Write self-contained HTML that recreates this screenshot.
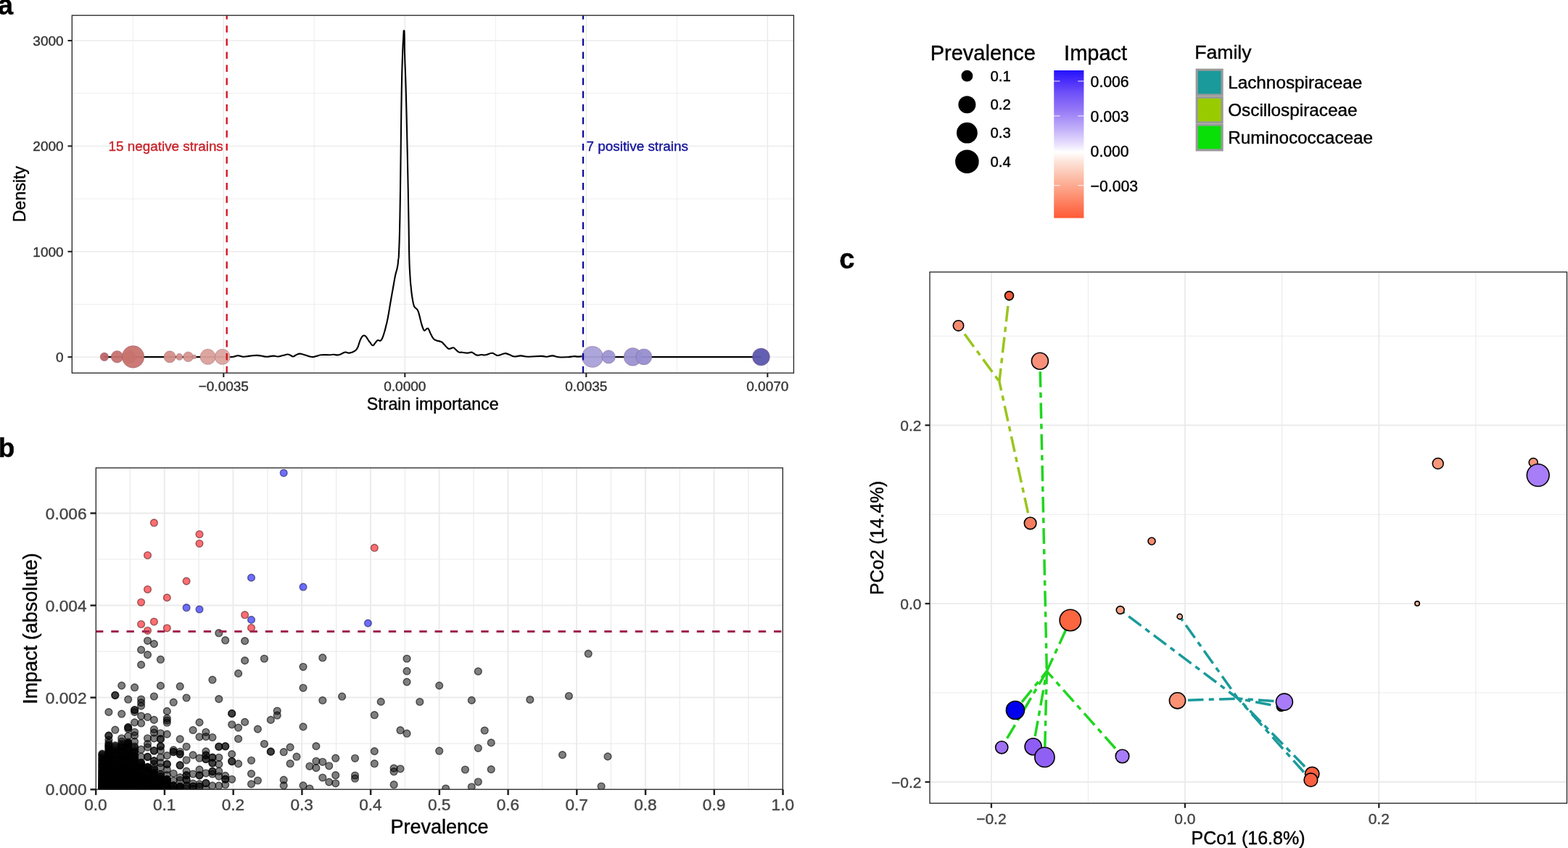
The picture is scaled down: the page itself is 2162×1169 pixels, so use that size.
<!DOCTYPE html>
<html lang="en"><head><meta charset="utf-8"><title>Strain importance figure</title>
<style>
html,body{margin:0;padding:0;background:#fff;}
body{width:2162px;height:1169px;overflow:hidden;}
svg{display:block;font-family:"Liberation Sans", Arial, Helvetica, sans-serif;}
text{stroke:currentColor;stroke-width:0.4px;paint-order:stroke;}
</style></head>
<body>
<svg width="2162" height="1169" viewBox="0 0 2162 1169">
<rect width="2162" height="1169" fill="#ffffff"/>
<g id="panel-a">
<rect x="99.3" y="21.2" width="995.10" height="493.00" fill="#fff"/>
<line x1="183.30" y1="21.20" x2="183.30" y2="514.20" stroke="#ebebeb" stroke-width="0.8" />
<line x1="433.30" y1="21.20" x2="433.30" y2="514.20" stroke="#ebebeb" stroke-width="0.8" />
<line x1="683.30" y1="21.20" x2="683.30" y2="514.20" stroke="#ebebeb" stroke-width="0.8" />
<line x1="933.30" y1="21.20" x2="933.30" y2="514.20" stroke="#ebebeb" stroke-width="0.8" />
<line x1="99.30" y1="128.70" x2="1094.40" y2="128.70" stroke="#ebebeb" stroke-width="0.8" />
<line x1="99.30" y1="274.10" x2="1094.40" y2="274.10" stroke="#ebebeb" stroke-width="0.8" />
<line x1="99.30" y1="419.50" x2="1094.40" y2="419.50" stroke="#ebebeb" stroke-width="0.8" />
<line x1="308.30" y1="21.20" x2="308.30" y2="514.20" stroke="#ebebeb" stroke-width="1.5" />
<line x1="558.30" y1="21.20" x2="558.30" y2="514.20" stroke="#ebebeb" stroke-width="1.5" />
<line x1="808.30" y1="21.20" x2="808.30" y2="514.20" stroke="#ebebeb" stroke-width="1.5" />
<line x1="1058.30" y1="21.20" x2="1058.30" y2="514.20" stroke="#ebebeb" stroke-width="1.5" />
<line x1="99.30" y1="56.00" x2="1094.40" y2="56.00" stroke="#ebebeb" stroke-width="1.5" />
<line x1="99.30" y1="201.40" x2="1094.40" y2="201.40" stroke="#ebebeb" stroke-width="1.5" />
<line x1="99.30" y1="346.80" x2="1094.40" y2="346.80" stroke="#ebebeb" stroke-width="1.5" />
<line x1="99.30" y1="492.20" x2="1094.40" y2="492.20" stroke="#ebebeb" stroke-width="1.5" />
<path d="M318.0 492.2C319.1 492.1 319.4 492.3 322.0 491.8C324.6 491.3 325.0 490.5 327.7 490.3C330.4 490.1 329.6 490.6 332.0 491.0C334.4 491.4 333.3 491.8 336.8 491.7C340.3 491.6 340.5 491.1 345.0 490.6C349.5 490.1 349.6 489.9 353.6 489.9C357.6 489.9 356.2 490.0 360.0 490.5C363.8 491.0 363.4 491.7 367.9 491.7C372.4 491.7 372.8 490.7 376.9 490.6C381.0 490.5 379.9 491.7 383.4 491.5C386.9 491.3 386.5 490.8 390.0 490.0C393.5 489.2 393.7 488.6 396.4 488.5C399.1 488.4 397.9 488.7 400.0 489.5C402.1 490.3 402.0 491.5 404.1 491.5C406.2 491.5 405.6 490.5 408.0 489.5C410.4 488.5 410.0 487.7 413.2 487.6C416.4 487.5 415.5 488.1 420.0 489.3C424.5 490.5 425.7 491.5 430.0 492.0C434.3 492.5 432.5 491.7 436.0 491.0C439.5 490.3 437.9 489.8 443.0 489.3C448.1 488.8 450.5 489.4 455.0 489.2C459.5 489.0 456.7 488.7 460.0 488.7C463.3 488.7 463.0 490.0 467.2 489.2C471.4 488.4 471.8 486.3 475.6 485.6C479.4 484.9 478.1 487.0 481.6 486.6C485.1 486.2 485.7 486.1 488.7 484.2C491.7 482.3 491.1 482.7 492.9 479.4C494.7 476.1 494.2 475.7 495.6 472.0C497.0 468.3 496.8 468.1 498.3 465.6C499.8 463.1 499.7 463.1 501.3 462.6C502.9 462.1 502.7 462.4 504.3 463.8C505.9 465.2 505.7 465.8 507.3 468.0C508.9 470.2 508.5 470.0 510.3 472.2C512.1 474.4 512.1 475.9 513.9 476.2C515.7 476.5 515.3 475.2 516.9 473.4C518.5 471.6 518.5 470.7 519.9 469.6C521.3 468.5 521.0 469.2 522.3 469.2C523.6 469.2 523.4 470.4 524.7 469.6C526.0 468.8 525.8 468.9 527.1 466.2C528.4 463.5 528.2 463.6 529.5 459.5C530.8 455.4 530.5 456.6 531.9 450.7C533.3 444.8 533.0 447.4 534.9 437.5C536.8 427.6 536.9 425.3 539.0 413.5C541.1 401.7 541.0 402.1 542.6 393.2C544.2 384.3 543.6 386.7 545.0 380.0C546.4 373.3 546.9 373.9 548.0 368.0C549.1 362.1 548.6 363.8 549.2 358.0C549.8 352.2 549.5 361.7 550.1 346.2C550.7 330.7 550.7 337.7 551.4 300.0C552.1 262.3 552.1 250.9 552.7 205.0C553.3 159.1 553.1 162.1 553.7 128.0C554.3 93.9 554.3 97.8 555.0 77.0C555.7 56.2 555.8 59.3 556.3 50.0C556.8 40.7 556.6 42.3 557.0 42.3C557.4 42.3 557.4 40.7 557.7 50.0C558.0 59.3 557.5 56.2 558.1 77.0C558.7 97.8 558.9 93.9 559.8 128.0C560.7 162.1 560.6 159.1 561.6 205.0C562.6 250.9 562.7 261.0 563.4 300.0C564.1 339.0 563.7 330.0 564.2 351.3C564.7 372.6 564.7 367.5 565.4 380.0C566.1 392.5 566.1 390.0 566.9 398.0C567.7 406.0 567.5 404.3 568.4 410.0C569.3 415.7 569.2 415.8 570.2 419.5C571.2 423.2 570.6 421.6 572.0 423.7C573.4 425.8 574.0 424.6 575.6 427.3C577.2 430.0 576.6 428.9 578.0 433.9C579.4 438.9 579.6 440.8 581.0 445.9C582.4 451.0 582.3 450.4 583.4 453.0C584.5 455.6 584.0 455.4 585.1 455.7C586.2 456.0 586.4 454.8 587.5 454.0C588.6 453.2 588.3 452.8 589.3 452.8C590.3 452.8 589.8 451.9 591.1 454.0C592.4 456.1 592.3 457.4 594.1 460.8C595.9 464.2 595.8 464.6 597.7 466.8C599.6 469.0 598.4 468.0 601.3 469.2C604.2 470.4 605.6 469.9 608.5 471.3C611.4 472.7 609.9 472.4 612.1 474.6C614.3 476.8 614.8 477.9 616.9 479.6C619.0 481.3 617.8 480.9 619.9 480.8C622.0 480.7 622.6 479.1 624.7 479.2C626.8 479.3 625.6 479.5 627.7 481.2C629.8 482.9 630.0 484.2 632.5 485.4C635.0 486.6 634.0 485.4 637.2 485.7C640.4 486.0 641.0 486.6 644.4 486.6C647.8 486.6 647.6 485.5 649.8 485.6C652.0 485.7 650.7 485.8 652.8 486.9C654.9 488.0 654.7 489.0 657.6 489.6C660.5 490.2 660.4 489.1 663.6 489.0C666.8 488.9 665.8 489.9 669.6 489.3C673.4 488.7 674.5 487.0 678.0 486.8C681.5 486.6 680.3 487.9 682.8 488.7C685.3 489.5 684.0 490.3 687.5 489.9C691.0 489.5 692.0 487.5 695.9 487.2C699.8 486.9 698.5 487.7 702.0 488.8C705.5 489.9 704.9 491.1 709.2 491.5C713.5 491.9 713.1 490.3 718.2 490.4C723.3 490.5 720.9 491.6 728.4 491.7C735.9 491.8 739.6 490.9 746.4 490.9C753.2 490.9 749.9 491.8 754.0 491.7C758.1 491.6 757.5 490.3 761.8 490.4C766.1 490.5 764.3 491.7 770.0 492.2C775.7 492.7 777.5 492.5 783.0 492.2C788.5 491.9 787.1 491.4 790.8 491.2C794.5 491.0 793.6 491.6 797.0 491.6C800.4 491.6 800.7 491.1 803.6 491.2C806.5 491.3 806.8 491.9 808.0 492.1" fill="none" stroke="#000" stroke-width="2.1" stroke-linejoin="round" stroke-linecap="butt"/>
<line x1="143.80" y1="492.20" x2="318.00" y2="492.20" stroke="#000" stroke-width="2.3" />
<line x1="806.00" y1="492.20" x2="1049.50" y2="492.20" stroke="#000" stroke-width="2.3" />
<circle cx="143.9" cy="491.9" r="5.8" fill="#bd6467" fill-opacity="0.95" stroke="#7a4a6a" stroke-opacity="0.35" stroke-width="1"/>
<circle cx="161.5" cy="491.9" r="8.3" fill="#c6726f" fill-opacity="0.95" stroke="#7a4a6a" stroke-opacity="0.35" stroke-width="1"/>
<circle cx="178.1" cy="491.9" r="9.0" fill="#c26a68" fill-opacity="0.95" stroke="#7a4a6a" stroke-opacity="0.35" stroke-width="1"/>
<circle cx="183.5" cy="491.9" r="15.3" fill="#c8736e" fill-opacity="0.95" stroke="#7a4a6a" stroke-opacity="0.35" stroke-width="1"/>
<circle cx="234.1" cy="491.9" r="8.1" fill="#d38e88" fill-opacity="0.95" stroke="#7a4a6a" stroke-opacity="0.35" stroke-width="1"/>
<circle cx="247.3" cy="491.9" r="4.6" fill="#d5928c" fill-opacity="0.95" stroke="#7a4a6a" stroke-opacity="0.35" stroke-width="1"/>
<circle cx="259.5" cy="491.9" r="6.9" fill="#d7968e" fill-opacity="0.95" stroke="#7a4a6a" stroke-opacity="0.35" stroke-width="1"/>
<circle cx="267.8" cy="491.9" r="2.8" fill="#d89a92" fill-opacity="0.95" stroke="#7a4a6a" stroke-opacity="0.35" stroke-width="1"/>
<circle cx="286.6" cy="491.9" r="10.6" fill="#dba09a" fill-opacity="0.95" stroke="#7a4a6a" stroke-opacity="0.35" stroke-width="1"/>
<circle cx="306.7" cy="491.9" r="10.6" fill="#dca49d" fill-opacity="0.95" stroke="#7a4a6a" stroke-opacity="0.35" stroke-width="1"/>
<circle cx="817.0" cy="491.9" r="14.6" fill="#a9a1d9" fill-opacity="0.95" stroke="#7a4a6a" stroke-opacity="0.35" stroke-width="1"/>
<circle cx="839.2" cy="491.9" r="9.2" fill="#9d95d2" fill-opacity="0.95" stroke="#7a4a6a" stroke-opacity="0.35" stroke-width="1"/>
<circle cx="872.5" cy="491.9" r="12.4" fill="#9b92d1" fill-opacity="0.95" stroke="#7a4a6a" stroke-opacity="0.35" stroke-width="1"/>
<circle cx="887.8" cy="491.9" r="11.0" fill="#978ed0" fill-opacity="0.95" stroke="#7a4a6a" stroke-opacity="0.35" stroke-width="1"/>
<circle cx="1049.4" cy="491.9" r="12.0" fill="#5b56ad" fill-opacity="0.95" stroke="#7a4a6a" stroke-opacity="0.35" stroke-width="1"/>
<line x1="312.70" y1="21.20" x2="312.70" y2="514.20" stroke="#d3101f" stroke-width="2.3" stroke-dasharray="9.6 8.47" stroke-dashoffset="4.0"/>
<line x1="804.00" y1="21.20" x2="804.00" y2="514.20" stroke="#0d0d9e" stroke-width="2.3" stroke-dasharray="9.6 8.47" stroke-dashoffset="4.0"/>
<text x="307.80" y="207.90" font-size="18.85" fill="#c8242b" color="#c8242b" text-anchor="end" font-weight="normal" >15 negative strains</text>
<text x="808.60" y="207.90" font-size="18.85" fill="#15159a" color="#15159a" text-anchor="start" font-weight="normal" >7 positive strains</text>
<rect x="99.3" y="21.2" width="995.10" height="493.00" fill="none" stroke="#222222" stroke-width="1.3"/>
<line x1="93.50" y1="56.00" x2="99.30" y2="56.00" stroke="#222222" stroke-width="2.1" />
<text x="87.60" y="62.70" font-size="19.0" fill="#333333" color="#333333" text-anchor="end" font-weight="normal" >3000</text>
<line x1="93.50" y1="201.40" x2="99.30" y2="201.40" stroke="#222222" stroke-width="2.1" />
<text x="87.60" y="208.10" font-size="19.0" fill="#333333" color="#333333" text-anchor="end" font-weight="normal" >2000</text>
<line x1="93.50" y1="346.80" x2="99.30" y2="346.80" stroke="#222222" stroke-width="2.1" />
<text x="87.60" y="353.50" font-size="19.0" fill="#333333" color="#333333" text-anchor="end" font-weight="normal" >1000</text>
<line x1="93.50" y1="492.20" x2="99.30" y2="492.20" stroke="#222222" stroke-width="2.1" />
<text x="87.60" y="498.90" font-size="19.0" fill="#333333" color="#333333" text-anchor="end" font-weight="normal" >0</text>
<line x1="308.30" y1="514.20" x2="308.30" y2="520.00" stroke="#222222" stroke-width="2.1" />
<text x="308.30" y="539.20" font-size="19.0" fill="#333333" color="#333333" text-anchor="middle" font-weight="normal" >−0.0035</text>
<line x1="558.30" y1="514.20" x2="558.30" y2="520.00" stroke="#222222" stroke-width="2.1" />
<text x="558.30" y="539.20" font-size="19.0" fill="#333333" color="#333333" text-anchor="middle" font-weight="normal" >0.0000</text>
<line x1="808.30" y1="514.20" x2="808.30" y2="520.00" stroke="#222222" stroke-width="2.1" />
<text x="808.30" y="539.20" font-size="19.0" fill="#333333" color="#333333" text-anchor="middle" font-weight="normal" >0.0035</text>
<line x1="1058.30" y1="514.20" x2="1058.30" y2="520.00" stroke="#222222" stroke-width="2.1" />
<text x="1058.30" y="539.20" font-size="19.0" fill="#333333" color="#333333" text-anchor="middle" font-weight="normal" >0.0070</text>
<text x="596.70" y="564.50" font-size="23.2" fill="#000" color="#000" text-anchor="middle" font-weight="normal" >Strain importance</text>
<text x="34.80" y="267.50" font-size="23.2" fill="#000" color="#000" text-anchor="middle" font-weight="normal" transform="rotate(-90 34.80 267.50)" >Density</text>
<text x="-2.90" y="20.30" font-size="38" fill="#000" color="#000" text-anchor="start" font-weight="bold" >a</text>
</g>
<g id="panel-b">
<rect x="132.3" y="645.0" width="947.00" height="443.20" fill="#fff"/>
<line x1="179.37" y1="645.00" x2="179.37" y2="1088.20" stroke="#ebebeb" stroke-width="1.2" />
<line x1="274.09" y1="645.00" x2="274.09" y2="1088.20" stroke="#ebebeb" stroke-width="1.2" />
<line x1="368.82" y1="645.00" x2="368.82" y2="1088.20" stroke="#ebebeb" stroke-width="1.2" />
<line x1="463.55" y1="645.00" x2="463.55" y2="1088.20" stroke="#ebebeb" stroke-width="1.2" />
<line x1="558.28" y1="645.00" x2="558.28" y2="1088.20" stroke="#ebebeb" stroke-width="1.2" />
<line x1="653.01" y1="645.00" x2="653.01" y2="1088.20" stroke="#ebebeb" stroke-width="1.2" />
<line x1="747.75" y1="645.00" x2="747.75" y2="1088.20" stroke="#ebebeb" stroke-width="1.2" />
<line x1="842.48" y1="645.00" x2="842.48" y2="1088.20" stroke="#ebebeb" stroke-width="1.2" />
<line x1="937.20" y1="645.00" x2="937.20" y2="1088.20" stroke="#ebebeb" stroke-width="1.2" />
<line x1="1031.93" y1="645.00" x2="1031.93" y2="1088.20" stroke="#ebebeb" stroke-width="1.2" />
<line x1="132.30" y1="771.00" x2="1079.30" y2="771.00" stroke="#ebebeb" stroke-width="1.2" />
<line x1="132.30" y1="898.10" x2="1079.30" y2="898.10" stroke="#ebebeb" stroke-width="1.2" />
<line x1="132.30" y1="1025.10" x2="1079.30" y2="1025.10" stroke="#ebebeb" stroke-width="1.2" />
<line x1="226.73" y1="645.00" x2="226.73" y2="1088.20" stroke="#ebebeb" stroke-width="2.0" />
<line x1="321.46" y1="645.00" x2="321.46" y2="1088.20" stroke="#ebebeb" stroke-width="2.0" />
<line x1="416.19" y1="645.00" x2="416.19" y2="1088.20" stroke="#ebebeb" stroke-width="2.0" />
<line x1="510.92" y1="645.00" x2="510.92" y2="1088.20" stroke="#ebebeb" stroke-width="2.0" />
<line x1="605.65" y1="645.00" x2="605.65" y2="1088.20" stroke="#ebebeb" stroke-width="2.0" />
<line x1="700.38" y1="645.00" x2="700.38" y2="1088.20" stroke="#ebebeb" stroke-width="2.0" />
<line x1="795.11" y1="645.00" x2="795.11" y2="1088.20" stroke="#ebebeb" stroke-width="2.0" />
<line x1="889.84" y1="645.00" x2="889.84" y2="1088.20" stroke="#ebebeb" stroke-width="2.0" />
<line x1="984.57" y1="645.00" x2="984.57" y2="1088.20" stroke="#ebebeb" stroke-width="2.0" />
<line x1="132.30" y1="707.50" x2="1079.30" y2="707.50" stroke="#ebebeb" stroke-width="2.0" />
<line x1="132.30" y1="834.60" x2="1079.30" y2="834.60" stroke="#ebebeb" stroke-width="2.0" />
<line x1="132.30" y1="961.60" x2="1079.30" y2="961.60" stroke="#ebebeb" stroke-width="2.0" />
<clipPath id="clipb"><rect x="132.3" y="645.0" width="947.00" height="443.20"/></clipPath>
<g clip-path="url(#clipb)">
<g fill="#000" fill-opacity="0.5" stroke="#000" stroke-opacity="0.6" stroke-width="1.4">
<circle cx="301.8" cy="872.7" r="4.9"/>
<circle cx="310.7" cy="882.7" r="4.9"/>
<circle cx="337.6" cy="883.6" r="4.9"/>
<circle cx="203.5" cy="883.3" r="4.9"/>
<circle cx="212.4" cy="887.6" r="4.9"/>
<circle cx="194.6" cy="895.9" r="4.9"/>
<circle cx="203.5" cy="902.6" r="4.9"/>
<circle cx="221.4" cy="909.2" r="4.9"/>
<circle cx="194.6" cy="916.4" r="4.9"/>
<circle cx="337.6" cy="910.6" r="4.9"/>
<circle cx="364.4" cy="908.0" r="4.9"/>
<circle cx="328.6" cy="928.4" r="4.9"/>
<circle cx="418.0" cy="919.3" r="4.9"/>
<circle cx="418.0" cy="948.3" r="4.9"/>
<circle cx="158.8" cy="958.3" r="4.9"/>
<circle cx="158.8" cy="958.6" r="4.9"/>
<circle cx="194.6" cy="964.0" r="4.9"/>
<circle cx="194.6" cy="968.6" r="4.9"/>
<circle cx="444.8" cy="906.7" r="4.9"/>
<circle cx="561.0" cy="908.0" r="4.9"/>
<circle cx="561.0" cy="925.2" r="4.9"/>
<circle cx="561.0" cy="940.1" r="4.9"/>
<circle cx="605.7" cy="945.1" r="4.9"/>
<circle cx="659.3" cy="925.5" r="4.9"/>
<circle cx="444.8" cy="965.5" r="4.9"/>
<circle cx="471.6" cy="960.2" r="4.9"/>
<circle cx="525.2" cy="967.4" r="4.9"/>
<circle cx="578.8" cy="967.5" r="4.9"/>
<circle cx="650.3" cy="965.4" r="4.9"/>
<circle cx="730.8" cy="964.5" r="4.9"/>
<circle cx="811.2" cy="901.2" r="4.9"/>
<circle cx="784.4" cy="959.5" r="4.9"/>
<circle cx="516.3" cy="985.7" r="4.9"/>
<circle cx="552.0" cy="1006.7" r="4.9"/>
<circle cx="561.0" cy="1011.2" r="4.9"/>
<circle cx="668.2" cy="1007.0" r="4.9"/>
<circle cx="677.2" cy="1023.9" r="4.9"/>
<circle cx="659.3" cy="1031.3" r="4.9"/>
<circle cx="435.9" cy="1028.6" r="4.9"/>
<circle cx="516.3" cy="1035.6" r="4.9"/>
<circle cx="605.7" cy="1035.2" r="4.9"/>
<circle cx="462.7" cy="1045.2" r="4.9"/>
<circle cx="489.5" cy="1045.3" r="4.9"/>
<circle cx="435.9" cy="1049.3" r="4.9"/>
<circle cx="444.8" cy="1050.3" r="4.9"/>
<circle cx="453.7" cy="1055.8" r="4.9"/>
<circle cx="435.9" cy="1058.6" r="4.9"/>
<circle cx="516.3" cy="1052.7" r="4.9"/>
<circle cx="543.1" cy="1059.0" r="4.9"/>
<circle cx="543.1" cy="1063.7" r="4.9"/>
<circle cx="552.0" cy="1059.8" r="4.9"/>
<circle cx="641.4" cy="1061.0" r="4.9"/>
<circle cx="677.2" cy="1060.6" r="4.9"/>
<circle cx="462.7" cy="1068.7" r="4.9"/>
<circle cx="444.8" cy="1072.0" r="4.9"/>
<circle cx="489.5" cy="1069.0" r="4.9"/>
<circle cx="489.5" cy="1073.2" r="4.9"/>
<circle cx="453.7" cy="1078.1" r="4.9"/>
<circle cx="462.7" cy="1079.8" r="4.9"/>
<circle cx="543.1" cy="1081.7" r="4.9"/>
<circle cx="659.3" cy="1077.8" r="4.9"/>
<circle cx="650.3" cy="1084.8" r="4.9"/>
<circle cx="614.6" cy="1087.0" r="4.9"/>
<circle cx="426.9" cy="1087.0" r="4.9"/>
<circle cx="426.9" cy="1056.3" r="4.9"/>
<circle cx="775.5" cy="1040.6" r="4.9"/>
<circle cx="838.0" cy="1042.9" r="4.9"/>
<circle cx="829.1" cy="1084.0" r="4.9"/>
<circle cx="149.9" cy="981.6" r="4.9"/>
<circle cx="149.9" cy="1013.9" r="4.9"/>
<circle cx="149.9" cy="1014.4" r="4.9"/>
<circle cx="149.9" cy="1020.1" r="4.9"/>
<circle cx="158.8" cy="1006.2" r="4.9"/>
<circle cx="167.7" cy="945.1" r="4.9"/>
<circle cx="167.7" cy="984.2" r="4.9"/>
<circle cx="167.7" cy="1017.8" r="4.9"/>
<circle cx="167.7" cy="1022.4" r="4.9"/>
<circle cx="176.7" cy="964.2" r="4.9"/>
<circle cx="176.7" cy="1002.4" r="4.9"/>
<circle cx="176.7" cy="1003.0" r="4.9"/>
<circle cx="176.7" cy="1004.7" r="4.9"/>
<circle cx="176.7" cy="1014.7" r="4.9"/>
<circle cx="176.7" cy="1024.7" r="4.9"/>
<circle cx="176.7" cy="1025.2" r="4.9"/>
<circle cx="185.6" cy="947.7" r="4.9"/>
<circle cx="185.6" cy="978.5" r="4.9"/>
<circle cx="185.6" cy="979.0" r="4.9"/>
<circle cx="185.6" cy="981.6" r="4.9"/>
<circle cx="185.6" cy="995.9" r="4.9"/>
<circle cx="185.6" cy="1009.3" r="4.9"/>
<circle cx="185.6" cy="1013.9" r="4.9"/>
<circle cx="185.6" cy="1022.4" r="4.9"/>
<circle cx="194.6" cy="973.1" r="4.9"/>
<circle cx="194.6" cy="987.0" r="4.9"/>
<circle cx="194.6" cy="997.0" r="4.9"/>
<circle cx="194.6" cy="1033.2" r="4.9"/>
<circle cx="194.6" cy="1043.2" r="4.9"/>
<circle cx="194.6" cy="1051.7" r="4.9"/>
<circle cx="194.6" cy="1056.3" r="4.9"/>
<circle cx="203.5" cy="988.5" r="4.9"/>
<circle cx="203.5" cy="1017.8" r="4.9"/>
<circle cx="203.5" cy="1025.5" r="4.9"/>
<circle cx="203.5" cy="1030.1" r="4.9"/>
<circle cx="203.5" cy="1043.2" r="4.9"/>
<circle cx="203.5" cy="1043.6" r="4.9"/>
<circle cx="203.5" cy="1057.8" r="4.9"/>
<circle cx="203.5" cy="1058.3" r="4.9"/>
<circle cx="212.4" cy="960.0" r="4.9"/>
<circle cx="212.4" cy="992.4" r="4.9"/>
<circle cx="212.4" cy="1005.5" r="4.9"/>
<circle cx="212.4" cy="1010.1" r="4.9"/>
<circle cx="212.4" cy="1017.8" r="4.9"/>
<circle cx="212.4" cy="1034.7" r="4.9"/>
<circle cx="212.4" cy="1035.2" r="4.9"/>
<circle cx="212.4" cy="1048.6" r="4.9"/>
<circle cx="212.4" cy="1049.0" r="4.9"/>
<circle cx="212.4" cy="1053.2" r="4.9"/>
<circle cx="221.4" cy="945.4" r="4.9"/>
<circle cx="221.4" cy="1010.8" r="4.9"/>
<circle cx="221.4" cy="1018.5" r="4.9"/>
<circle cx="221.4" cy="1019.0" r="4.9"/>
<circle cx="221.4" cy="1028.6" r="4.9"/>
<circle cx="221.4" cy="1029.0" r="4.9"/>
<circle cx="221.4" cy="1034.7" r="4.9"/>
<circle cx="221.4" cy="1044.0" r="4.9"/>
<circle cx="221.4" cy="1051.7" r="4.9"/>
<circle cx="221.4" cy="1057.8" r="4.9"/>
<circle cx="221.4" cy="1067.0" r="4.9"/>
<circle cx="230.3" cy="980.4" r="4.9"/>
<circle cx="230.3" cy="990.1" r="4.9"/>
<circle cx="230.3" cy="993.1" r="4.9"/>
<circle cx="230.3" cy="996.2" r="4.9"/>
<circle cx="230.3" cy="1012.1" r="4.9"/>
<circle cx="230.3" cy="1041.6" r="4.9"/>
<circle cx="230.3" cy="1053.2" r="4.9"/>
<circle cx="230.3" cy="1053.7" r="4.9"/>
<circle cx="230.3" cy="1060.9" r="4.9"/>
<circle cx="230.3" cy="1068.6" r="4.9"/>
<circle cx="230.3" cy="1074.7" r="4.9"/>
<circle cx="230.3" cy="1075.2" r="4.9"/>
<circle cx="239.2" cy="968.2" r="4.9"/>
<circle cx="239.2" cy="1033.9" r="4.9"/>
<circle cx="239.2" cy="1036.3" r="4.9"/>
<circle cx="239.2" cy="1036.7" r="4.9"/>
<circle cx="239.2" cy="1066.3" r="4.9"/>
<circle cx="239.2" cy="1076.3" r="4.9"/>
<circle cx="239.2" cy="1084.0" r="4.9"/>
<circle cx="248.2" cy="946.2" r="4.9"/>
<circle cx="248.2" cy="1018.9" r="4.9"/>
<circle cx="248.2" cy="1036.3" r="4.9"/>
<circle cx="248.2" cy="1039.3" r="4.9"/>
<circle cx="248.2" cy="1039.8" r="4.9"/>
<circle cx="248.2" cy="1054.7" r="4.9"/>
<circle cx="248.2" cy="1055.2" r="4.9"/>
<circle cx="248.2" cy="1071.7" r="4.9"/>
<circle cx="248.2" cy="1075.5" r="4.9"/>
<circle cx="248.2" cy="1084.0" r="4.9"/>
<circle cx="248.2" cy="1084.5" r="4.9"/>
<circle cx="257.1" cy="962.0" r="4.9"/>
<circle cx="257.1" cy="1029.3" r="4.9"/>
<circle cx="257.1" cy="1047.8" r="4.9"/>
<circle cx="257.1" cy="1063.2" r="4.9"/>
<circle cx="257.1" cy="1068.6" r="4.9"/>
<circle cx="257.1" cy="1069.1" r="4.9"/>
<circle cx="257.1" cy="1074.7" r="4.9"/>
<circle cx="257.1" cy="1075.2" r="4.9"/>
<circle cx="257.1" cy="1084.0" r="4.9"/>
<circle cx="266.1" cy="1006.5" r="4.9"/>
<circle cx="266.1" cy="1040.9" r="4.9"/>
<circle cx="266.1" cy="1067.0" r="4.9"/>
<circle cx="266.1" cy="1080.1" r="4.9"/>
<circle cx="266.1" cy="1084.0" r="4.9"/>
<circle cx="275.0" cy="995.9" r="4.9"/>
<circle cx="275.0" cy="1015.8" r="4.9"/>
<circle cx="275.0" cy="1045.2" r="4.9"/>
<circle cx="275.0" cy="1060.9" r="4.9"/>
<circle cx="275.0" cy="1068.6" r="4.9"/>
<circle cx="275.0" cy="1069.1" r="4.9"/>
<circle cx="275.0" cy="1080.9" r="4.9"/>
<circle cx="275.0" cy="1084.0" r="4.9"/>
<circle cx="283.9" cy="1009.3" r="4.9"/>
<circle cx="283.9" cy="1015.5" r="4.9"/>
<circle cx="283.9" cy="1035.9" r="4.9"/>
<circle cx="283.9" cy="1040.9" r="4.9"/>
<circle cx="283.9" cy="1041.3" r="4.9"/>
<circle cx="283.9" cy="1046.3" r="4.9"/>
<circle cx="283.9" cy="1046.7" r="4.9"/>
<circle cx="283.9" cy="1065.8" r="4.9"/>
<circle cx="283.9" cy="1079.4" r="4.9"/>
<circle cx="283.9" cy="1079.8" r="4.9"/>
<circle cx="292.9" cy="937.2" r="4.9"/>
<circle cx="292.9" cy="1016.5" r="4.9"/>
<circle cx="292.9" cy="1044.0" r="4.9"/>
<circle cx="292.9" cy="1044.4" r="4.9"/>
<circle cx="292.9" cy="1051.7" r="4.9"/>
<circle cx="292.9" cy="1052.1" r="4.9"/>
<circle cx="292.9" cy="1063.2" r="4.9"/>
<circle cx="292.9" cy="1063.7" r="4.9"/>
<circle cx="292.9" cy="1067.0" r="4.9"/>
<circle cx="292.9" cy="1083.2" r="4.9"/>
<circle cx="301.8" cy="963.6" r="4.9"/>
<circle cx="301.8" cy="1029.0" r="4.9"/>
<circle cx="301.8" cy="1029.5" r="4.9"/>
<circle cx="301.8" cy="1044.3" r="4.9"/>
<circle cx="301.8" cy="1053.5" r="4.9"/>
<circle cx="301.8" cy="1063.2" r="4.9"/>
<circle cx="301.8" cy="1070.1" r="4.9"/>
<circle cx="301.8" cy="1083.2" r="4.9"/>
<circle cx="310.7" cy="1028.6" r="4.9"/>
<circle cx="310.7" cy="1029.0" r="4.9"/>
<circle cx="310.7" cy="1069.4" r="4.9"/>
<circle cx="310.7" cy="1074.0" r="4.9"/>
<circle cx="310.7" cy="1074.4" r="4.9"/>
<circle cx="310.7" cy="1081.7" r="4.9"/>
<circle cx="319.7" cy="983.4" r="4.9"/>
<circle cx="319.7" cy="983.9" r="4.9"/>
<circle cx="319.7" cy="998.8" r="4.9"/>
<circle cx="319.7" cy="1039.6" r="4.9"/>
<circle cx="319.7" cy="1049.3" r="4.9"/>
<circle cx="319.7" cy="1049.8" r="4.9"/>
<circle cx="319.7" cy="1074.3" r="4.9"/>
<circle cx="328.6" cy="1003.1" r="4.9"/>
<circle cx="328.6" cy="1018.5" r="4.9"/>
<circle cx="328.6" cy="1052.9" r="4.9"/>
<circle cx="337.6" cy="995.4" r="4.9"/>
<circle cx="346.5" cy="1048.3" r="4.9"/>
<circle cx="346.5" cy="1066.6" r="4.9"/>
<circle cx="346.5" cy="1080.9" r="4.9"/>
<circle cx="355.4" cy="1005.1" r="4.9"/>
<circle cx="355.4" cy="1076.0" r="4.9"/>
<circle cx="364.4" cy="1025.5" r="4.9"/>
<circle cx="373.3" cy="992.4" r="4.9"/>
<circle cx="373.3" cy="1035.9" r="4.9"/>
<circle cx="373.3" cy="1036.4" r="4.9"/>
<circle cx="382.2" cy="980.0" r="4.9"/>
<circle cx="382.2" cy="986.2" r="4.9"/>
<circle cx="391.2" cy="1036.7" r="4.9"/>
<circle cx="391.2" cy="1075.2" r="4.9"/>
<circle cx="391.2" cy="1082.9" r="4.9"/>
<circle cx="400.1" cy="1030.1" r="4.9"/>
<circle cx="400.1" cy="1052.7" r="4.9"/>
<circle cx="409.0" cy="1043.2" r="4.9"/>
<circle cx="418.0" cy="1001.9" r="4.9"/>
<circle cx="418.0" cy="1082.9" r="4.9"/>
<circle cx="140.9" cy="1088.2" r="4.9"/>
<circle cx="140.9" cy="1088.1" r="4.9"/>
<circle cx="140.9" cy="1087.9" r="4.9"/>
<circle cx="140.9" cy="1087.8" r="4.9"/>
<circle cx="140.9" cy="1087.4" r="4.9"/>
<circle cx="140.9" cy="1087.1" r="4.9"/>
<circle cx="140.9" cy="1086.8" r="4.9"/>
<circle cx="140.9" cy="1086.2" r="4.9"/>
<circle cx="140.9" cy="1086.0" r="4.9"/>
<circle cx="140.9" cy="1085.3" r="4.9"/>
<circle cx="140.9" cy="1084.9" r="4.9"/>
<circle cx="140.9" cy="1084.3" r="4.9"/>
<circle cx="140.9" cy="1083.5" r="4.9"/>
<circle cx="140.9" cy="1082.6" r="4.9"/>
<circle cx="140.9" cy="1082.3" r="4.9"/>
<circle cx="140.9" cy="1081.6" r="4.9"/>
<circle cx="140.9" cy="1080.5" r="4.9"/>
<circle cx="140.9" cy="1079.4" r="4.9"/>
<circle cx="140.9" cy="1078.9" r="4.9"/>
<circle cx="140.9" cy="1078.2" r="4.9"/>
<circle cx="140.9" cy="1076.7" r="4.9"/>
<circle cx="140.9" cy="1076.7" r="4.9"/>
<circle cx="140.9" cy="1074.9" r="4.9"/>
<circle cx="140.9" cy="1074.5" r="4.9"/>
<circle cx="140.9" cy="1073.6" r="4.9"/>
<circle cx="140.9" cy="1072.6" r="4.9"/>
<circle cx="140.9" cy="1071.3" r="4.9"/>
<circle cx="140.9" cy="1069.7" r="4.9"/>
<circle cx="140.9" cy="1069.3" r="4.9"/>
<circle cx="140.9" cy="1067.6" r="4.9"/>
<circle cx="140.9" cy="1066.4" r="4.9"/>
<circle cx="140.9" cy="1065.5" r="4.9"/>
<circle cx="140.9" cy="1064.0" r="4.9"/>
<circle cx="140.9" cy="1063.3" r="4.9"/>
<circle cx="140.9" cy="1062.1" r="4.9"/>
<circle cx="140.9" cy="1060.5" r="4.9"/>
<circle cx="140.9" cy="1058.6" r="4.9"/>
<circle cx="140.9" cy="1057.5" r="4.9"/>
<circle cx="140.9" cy="1056.3" r="4.9"/>
<circle cx="140.9" cy="1054.5" r="4.9"/>
<circle cx="140.9" cy="1053.2" r="4.9"/>
<circle cx="140.9" cy="1051.9" r="4.9"/>
<circle cx="140.9" cy="1049.7" r="4.9"/>
<circle cx="140.9" cy="1048.3" r="4.9"/>
<circle cx="140.9" cy="1047.4" r="4.9"/>
<circle cx="140.9" cy="1045.3" r="4.9"/>
<circle cx="140.9" cy="1043.8" r="4.9"/>
<circle cx="140.9" cy="1041.6" r="4.9"/>
<circle cx="140.9" cy="1040.1" r="4.9"/>
<circle cx="140.9" cy="1039.2" r="4.9"/>
<circle cx="149.9" cy="1088.1" r="4.9"/>
<circle cx="149.9" cy="1088.1" r="4.9"/>
<circle cx="149.9" cy="1087.9" r="4.9"/>
<circle cx="149.9" cy="1087.6" r="4.9"/>
<circle cx="149.9" cy="1087.5" r="4.9"/>
<circle cx="149.9" cy="1087.0" r="4.9"/>
<circle cx="149.9" cy="1086.8" r="4.9"/>
<circle cx="149.9" cy="1086.1" r="4.9"/>
<circle cx="149.9" cy="1085.6" r="4.9"/>
<circle cx="149.9" cy="1085.2" r="4.9"/>
<circle cx="149.9" cy="1084.4" r="4.9"/>
<circle cx="149.9" cy="1084.1" r="4.9"/>
<circle cx="149.9" cy="1083.3" r="4.9"/>
<circle cx="149.9" cy="1082.7" r="4.9"/>
<circle cx="149.9" cy="1082.0" r="4.9"/>
<circle cx="149.9" cy="1081.3" r="4.9"/>
<circle cx="149.9" cy="1080.2" r="4.9"/>
<circle cx="149.9" cy="1079.3" r="4.9"/>
<circle cx="149.9" cy="1078.9" r="4.9"/>
<circle cx="149.9" cy="1077.8" r="4.9"/>
<circle cx="149.9" cy="1077.5" r="4.9"/>
<circle cx="149.9" cy="1075.9" r="4.9"/>
<circle cx="149.9" cy="1075.0" r="4.9"/>
<circle cx="149.9" cy="1073.7" r="4.9"/>
<circle cx="149.9" cy="1072.8" r="4.9"/>
<circle cx="149.9" cy="1072.3" r="4.9"/>
<circle cx="149.9" cy="1071.1" r="4.9"/>
<circle cx="149.9" cy="1069.7" r="4.9"/>
<circle cx="149.9" cy="1069.3" r="4.9"/>
<circle cx="149.9" cy="1067.6" r="4.9"/>
<circle cx="149.9" cy="1066.7" r="4.9"/>
<circle cx="149.9" cy="1065.6" r="4.9"/>
<circle cx="149.9" cy="1064.4" r="4.9"/>
<circle cx="149.9" cy="1062.2" r="4.9"/>
<circle cx="149.9" cy="1061.7" r="4.9"/>
<circle cx="149.9" cy="1060.2" r="4.9"/>
<circle cx="149.9" cy="1058.7" r="4.9"/>
<circle cx="149.9" cy="1056.6" r="4.9"/>
<circle cx="149.9" cy="1056.3" r="4.9"/>
<circle cx="149.9" cy="1054.3" r="4.9"/>
<circle cx="149.9" cy="1052.7" r="4.9"/>
<circle cx="149.9" cy="1050.7" r="4.9"/>
<circle cx="149.9" cy="1049.3" r="4.9"/>
<circle cx="149.9" cy="1047.6" r="4.9"/>
<circle cx="149.9" cy="1047.0" r="4.9"/>
<circle cx="149.9" cy="1045.2" r="4.9"/>
<circle cx="149.9" cy="1043.7" r="4.9"/>
<circle cx="149.9" cy="1041.1" r="4.9"/>
<circle cx="149.9" cy="1039.3" r="4.9"/>
<circle cx="149.9" cy="1039.0" r="4.9"/>
<circle cx="149.9" cy="1037.2" r="4.9"/>
<circle cx="149.9" cy="1035.4" r="4.9"/>
<circle cx="149.9" cy="1033.6" r="4.9"/>
<circle cx="149.9" cy="1031.4" r="4.9"/>
<circle cx="149.9" cy="1029.4" r="4.9"/>
<circle cx="149.9" cy="1028.1" r="4.9"/>
<circle cx="149.9" cy="1026.8" r="4.9"/>
<circle cx="149.9" cy="1024.1" r="4.9"/>
<circle cx="158.8" cy="1088.2" r="4.9"/>
<circle cx="158.8" cy="1088.1" r="4.9"/>
<circle cx="158.8" cy="1087.8" r="4.9"/>
<circle cx="158.8" cy="1087.6" r="4.9"/>
<circle cx="158.8" cy="1087.3" r="4.9"/>
<circle cx="158.8" cy="1086.9" r="4.9"/>
<circle cx="158.8" cy="1086.4" r="4.9"/>
<circle cx="158.8" cy="1086.3" r="4.9"/>
<circle cx="158.8" cy="1085.3" r="4.9"/>
<circle cx="158.8" cy="1084.8" r="4.9"/>
<circle cx="158.8" cy="1084.2" r="4.9"/>
<circle cx="158.8" cy="1083.6" r="4.9"/>
<circle cx="158.8" cy="1083.2" r="4.9"/>
<circle cx="158.8" cy="1082.5" r="4.9"/>
<circle cx="158.8" cy="1082.0" r="4.9"/>
<circle cx="158.8" cy="1080.8" r="4.9"/>
<circle cx="158.8" cy="1080.4" r="4.9"/>
<circle cx="158.8" cy="1079.6" r="4.9"/>
<circle cx="158.8" cy="1078.6" r="4.9"/>
<circle cx="158.8" cy="1077.7" r="4.9"/>
<circle cx="158.8" cy="1076.6" r="4.9"/>
<circle cx="158.8" cy="1075.9" r="4.9"/>
<circle cx="158.8" cy="1074.9" r="4.9"/>
<circle cx="158.8" cy="1073.7" r="4.9"/>
<circle cx="158.8" cy="1072.7" r="4.9"/>
<circle cx="158.8" cy="1071.3" r="4.9"/>
<circle cx="158.8" cy="1070.5" r="4.9"/>
<circle cx="158.8" cy="1068.3" r="4.9"/>
<circle cx="158.8" cy="1067.4" r="4.9"/>
<circle cx="158.8" cy="1066.7" r="4.9"/>
<circle cx="158.8" cy="1065.3" r="4.9"/>
<circle cx="158.8" cy="1063.9" r="4.9"/>
<circle cx="158.8" cy="1062.6" r="4.9"/>
<circle cx="158.8" cy="1061.5" r="4.9"/>
<circle cx="158.8" cy="1059.1" r="4.9"/>
<circle cx="158.8" cy="1057.5" r="4.9"/>
<circle cx="158.8" cy="1056.8" r="4.9"/>
<circle cx="158.8" cy="1055.3" r="4.9"/>
<circle cx="158.8" cy="1054.4" r="4.9"/>
<circle cx="158.8" cy="1052.8" r="4.9"/>
<circle cx="158.8" cy="1050.9" r="4.9"/>
<circle cx="158.8" cy="1049.5" r="4.9"/>
<circle cx="158.8" cy="1046.9" r="4.9"/>
<circle cx="158.8" cy="1046.4" r="4.9"/>
<circle cx="158.8" cy="1045.0" r="4.9"/>
<circle cx="158.8" cy="1041.7" r="4.9"/>
<circle cx="158.8" cy="1040.7" r="4.9"/>
<circle cx="158.8" cy="1039.6" r="4.9"/>
<circle cx="158.8" cy="1037.1" r="4.9"/>
<circle cx="158.8" cy="1036.3" r="4.9"/>
<circle cx="158.8" cy="1033.5" r="4.9"/>
<circle cx="158.8" cy="1030.8" r="4.9"/>
<circle cx="158.8" cy="1029.2" r="4.9"/>
<circle cx="158.8" cy="1027.6" r="4.9"/>
<circle cx="167.7" cy="1088.2" r="4.9"/>
<circle cx="167.7" cy="1088.1" r="4.9"/>
<circle cx="167.7" cy="1087.9" r="4.9"/>
<circle cx="167.7" cy="1087.5" r="4.9"/>
<circle cx="167.7" cy="1087.3" r="4.9"/>
<circle cx="167.7" cy="1086.8" r="4.9"/>
<circle cx="167.7" cy="1086.6" r="4.9"/>
<circle cx="167.7" cy="1086.2" r="4.9"/>
<circle cx="167.7" cy="1085.4" r="4.9"/>
<circle cx="167.7" cy="1084.8" r="4.9"/>
<circle cx="167.7" cy="1084.3" r="4.9"/>
<circle cx="167.7" cy="1083.6" r="4.9"/>
<circle cx="167.7" cy="1083.0" r="4.9"/>
<circle cx="167.7" cy="1082.3" r="4.9"/>
<circle cx="167.7" cy="1081.9" r="4.9"/>
<circle cx="167.7" cy="1081.0" r="4.9"/>
<circle cx="167.7" cy="1080.3" r="4.9"/>
<circle cx="167.7" cy="1079.7" r="4.9"/>
<circle cx="167.7" cy="1078.9" r="4.9"/>
<circle cx="167.7" cy="1077.7" r="4.9"/>
<circle cx="167.7" cy="1076.8" r="4.9"/>
<circle cx="167.7" cy="1075.4" r="4.9"/>
<circle cx="167.7" cy="1074.1" r="4.9"/>
<circle cx="167.7" cy="1073.6" r="4.9"/>
<circle cx="167.7" cy="1072.0" r="4.9"/>
<circle cx="167.7" cy="1070.8" r="4.9"/>
<circle cx="167.7" cy="1069.7" r="4.9"/>
<circle cx="167.7" cy="1069.2" r="4.9"/>
<circle cx="167.7" cy="1068.2" r="4.9"/>
<circle cx="167.7" cy="1066.9" r="4.9"/>
<circle cx="167.7" cy="1065.7" r="4.9"/>
<circle cx="167.7" cy="1064.4" r="4.9"/>
<circle cx="167.7" cy="1062.6" r="4.9"/>
<circle cx="167.7" cy="1060.8" r="4.9"/>
<circle cx="167.7" cy="1059.5" r="4.9"/>
<circle cx="167.7" cy="1058.6" r="4.9"/>
<circle cx="167.7" cy="1057.0" r="4.9"/>
<circle cx="167.7" cy="1055.3" r="4.9"/>
<circle cx="167.7" cy="1054.9" r="4.9"/>
<circle cx="167.7" cy="1052.5" r="4.9"/>
<circle cx="167.7" cy="1050.6" r="4.9"/>
<circle cx="167.7" cy="1049.2" r="4.9"/>
<circle cx="167.7" cy="1047.6" r="4.9"/>
<circle cx="167.7" cy="1046.4" r="4.9"/>
<circle cx="167.7" cy="1045.3" r="4.9"/>
<circle cx="167.7" cy="1042.6" r="4.9"/>
<circle cx="167.7" cy="1041.7" r="4.9"/>
<circle cx="167.7" cy="1039.1" r="4.9"/>
<circle cx="167.7" cy="1037.1" r="4.9"/>
<circle cx="167.7" cy="1036.3" r="4.9"/>
<circle cx="167.7" cy="1034.5" r="4.9"/>
<circle cx="167.7" cy="1031.7" r="4.9"/>
<circle cx="167.7" cy="1030.3" r="4.9"/>
<circle cx="167.7" cy="1029.4" r="4.9"/>
<circle cx="167.7" cy="1027.6" r="4.9"/>
<circle cx="167.7" cy="1025.6" r="4.9"/>
<circle cx="176.7" cy="1088.1" r="4.9"/>
<circle cx="176.7" cy="1088.0" r="4.9"/>
<circle cx="176.7" cy="1088.0" r="4.9"/>
<circle cx="176.7" cy="1087.5" r="4.9"/>
<circle cx="176.7" cy="1087.2" r="4.9"/>
<circle cx="176.7" cy="1086.9" r="4.9"/>
<circle cx="176.7" cy="1086.7" r="4.9"/>
<circle cx="176.7" cy="1086.1" r="4.9"/>
<circle cx="176.7" cy="1085.9" r="4.9"/>
<circle cx="176.7" cy="1085.4" r="4.9"/>
<circle cx="176.7" cy="1084.3" r="4.9"/>
<circle cx="176.7" cy="1083.9" r="4.9"/>
<circle cx="176.7" cy="1083.3" r="4.9"/>
<circle cx="176.7" cy="1082.3" r="4.9"/>
<circle cx="176.7" cy="1082.0" r="4.9"/>
<circle cx="176.7" cy="1080.9" r="4.9"/>
<circle cx="176.7" cy="1080.1" r="4.9"/>
<circle cx="176.7" cy="1079.8" r="4.9"/>
<circle cx="176.7" cy="1078.9" r="4.9"/>
<circle cx="176.7" cy="1078.0" r="4.9"/>
<circle cx="176.7" cy="1077.1" r="4.9"/>
<circle cx="176.7" cy="1075.9" r="4.9"/>
<circle cx="176.7" cy="1075.2" r="4.9"/>
<circle cx="176.7" cy="1074.0" r="4.9"/>
<circle cx="176.7" cy="1073.3" r="4.9"/>
<circle cx="176.7" cy="1071.4" r="4.9"/>
<circle cx="176.7" cy="1070.9" r="4.9"/>
<circle cx="176.7" cy="1069.6" r="4.9"/>
<circle cx="176.7" cy="1068.3" r="4.9"/>
<circle cx="176.7" cy="1066.7" r="4.9"/>
<circle cx="176.7" cy="1066.1" r="4.9"/>
<circle cx="176.7" cy="1064.2" r="4.9"/>
<circle cx="176.7" cy="1063.5" r="4.9"/>
<circle cx="176.7" cy="1062.1" r="4.9"/>
<circle cx="176.7" cy="1060.8" r="4.9"/>
<circle cx="176.7" cy="1060.1" r="4.9"/>
<circle cx="176.7" cy="1058.2" r="4.9"/>
<circle cx="176.7" cy="1057.1" r="4.9"/>
<circle cx="176.7" cy="1055.9" r="4.9"/>
<circle cx="176.7" cy="1053.3" r="4.9"/>
<circle cx="176.7" cy="1052.7" r="4.9"/>
<circle cx="176.7" cy="1050.8" r="4.9"/>
<circle cx="176.7" cy="1048.8" r="4.9"/>
<circle cx="176.7" cy="1047.5" r="4.9"/>
<circle cx="176.7" cy="1046.3" r="4.9"/>
<circle cx="176.7" cy="1044.4" r="4.9"/>
<circle cx="176.7" cy="1042.6" r="4.9"/>
<circle cx="176.7" cy="1040.6" r="4.9"/>
<circle cx="176.7" cy="1040.0" r="4.9"/>
<circle cx="176.7" cy="1037.5" r="4.9"/>
<circle cx="176.7" cy="1036.3" r="4.9"/>
<circle cx="176.7" cy="1034.5" r="4.9"/>
<circle cx="176.7" cy="1031.8" r="4.9"/>
<circle cx="176.7" cy="1030.5" r="4.9"/>
<circle cx="176.7" cy="1028.5" r="4.9"/>
<circle cx="176.7" cy="1026.3" r="4.9"/>
<circle cx="176.7" cy="1024.1" r="4.9"/>
<circle cx="176.7" cy="1023.1" r="4.9"/>
<circle cx="185.6" cy="1088.2" r="4.9"/>
<circle cx="185.6" cy="1088.0" r="4.9"/>
<circle cx="185.6" cy="1087.8" r="4.9"/>
<circle cx="185.6" cy="1087.5" r="4.9"/>
<circle cx="185.6" cy="1087.2" r="4.9"/>
<circle cx="185.6" cy="1086.8" r="4.9"/>
<circle cx="185.6" cy="1086.3" r="4.9"/>
<circle cx="185.6" cy="1085.6" r="4.9"/>
<circle cx="185.6" cy="1085.1" r="4.9"/>
<circle cx="185.6" cy="1084.4" r="4.9"/>
<circle cx="185.6" cy="1083.7" r="4.9"/>
<circle cx="185.6" cy="1083.4" r="4.9"/>
<circle cx="185.6" cy="1082.5" r="4.9"/>
<circle cx="185.6" cy="1081.3" r="4.9"/>
<circle cx="185.6" cy="1080.6" r="4.9"/>
<circle cx="185.6" cy="1080.3" r="4.9"/>
<circle cx="185.6" cy="1079.4" r="4.9"/>
<circle cx="185.6" cy="1078.2" r="4.9"/>
<circle cx="185.6" cy="1077.5" r="4.9"/>
<circle cx="185.6" cy="1076.3" r="4.9"/>
<circle cx="185.6" cy="1075.4" r="4.9"/>
<circle cx="185.6" cy="1073.7" r="4.9"/>
<circle cx="185.6" cy="1072.4" r="4.9"/>
<circle cx="185.6" cy="1071.0" r="4.9"/>
<circle cx="185.6" cy="1070.7" r="4.9"/>
<circle cx="185.6" cy="1068.8" r="4.9"/>
<circle cx="185.6" cy="1067.5" r="4.9"/>
<circle cx="185.6" cy="1066.9" r="4.9"/>
<circle cx="185.6" cy="1064.5" r="4.9"/>
<circle cx="185.6" cy="1063.0" r="4.9"/>
<circle cx="185.6" cy="1062.6" r="4.9"/>
<circle cx="185.6" cy="1060.1" r="4.9"/>
<circle cx="185.6" cy="1059.4" r="4.9"/>
<circle cx="185.6" cy="1057.7" r="4.9"/>
<circle cx="185.6" cy="1055.4" r="4.9"/>
<circle cx="185.6" cy="1054.0" r="4.9"/>
<circle cx="185.6" cy="1053.5" r="4.9"/>
<circle cx="185.6" cy="1051.4" r="4.9"/>
<circle cx="185.6" cy="1049.6" r="4.9"/>
<circle cx="185.6" cy="1048.2" r="4.9"/>
<circle cx="185.6" cy="1046.7" r="4.9"/>
<circle cx="185.6" cy="1044.7" r="4.9"/>
<circle cx="185.6" cy="1042.1" r="4.9"/>
<circle cx="185.6" cy="1041.6" r="4.9"/>
<circle cx="185.6" cy="1038.7" r="4.9"/>
<circle cx="185.6" cy="1037.0" r="4.9"/>
<circle cx="185.6" cy="1035.9" r="4.9"/>
<circle cx="185.6" cy="1033.4" r="4.9"/>
<circle cx="185.6" cy="1030.8" r="4.9"/>
<circle cx="185.6" cy="1029.0" r="4.9"/>
<circle cx="194.6" cy="1088.2" r="4.9"/>
<circle cx="194.6" cy="1087.9" r="4.9"/>
<circle cx="194.6" cy="1087.6" r="4.9"/>
<circle cx="194.6" cy="1087.1" r="4.9"/>
<circle cx="194.6" cy="1087.0" r="4.9"/>
<circle cx="194.6" cy="1086.4" r="4.9"/>
<circle cx="194.6" cy="1086.0" r="4.9"/>
<circle cx="194.6" cy="1084.7" r="4.9"/>
<circle cx="194.6" cy="1084.4" r="4.9"/>
<circle cx="194.6" cy="1083.7" r="4.9"/>
<circle cx="194.6" cy="1082.5" r="4.9"/>
<circle cx="194.6" cy="1081.1" r="4.9"/>
<circle cx="194.6" cy="1080.1" r="4.9"/>
<circle cx="194.6" cy="1079.7" r="4.9"/>
<circle cx="194.6" cy="1078.7" r="4.9"/>
<circle cx="194.6" cy="1076.5" r="4.9"/>
<circle cx="194.6" cy="1075.7" r="4.9"/>
<circle cx="194.6" cy="1074.2" r="4.9"/>
<circle cx="194.6" cy="1073.7" r="4.9"/>
<circle cx="194.6" cy="1072.4" r="4.9"/>
<circle cx="194.6" cy="1070.0" r="4.9"/>
<circle cx="194.6" cy="1068.9" r="4.9"/>
<circle cx="194.6" cy="1067.9" r="4.9"/>
<circle cx="194.6" cy="1064.9" r="4.9"/>
<circle cx="194.6" cy="1063.7" r="4.9"/>
<circle cx="194.6" cy="1061.7" r="4.9"/>
<circle cx="194.6" cy="1061.2" r="4.9"/>
<circle cx="194.6" cy="1058.0" r="4.9"/>
<circle cx="194.6" cy="1057.6" r="4.9"/>
<circle cx="194.6" cy="1054.2" r="4.9"/>
<circle cx="194.6" cy="1053.1" r="4.9"/>
<circle cx="194.6" cy="1051.3" r="4.9"/>
<circle cx="203.5" cy="1088.2" r="4.9"/>
<circle cx="203.5" cy="1087.9" r="4.9"/>
<circle cx="203.5" cy="1087.8" r="4.9"/>
<circle cx="203.5" cy="1087.4" r="4.9"/>
<circle cx="203.5" cy="1086.7" r="4.9"/>
<circle cx="203.5" cy="1086.3" r="4.9"/>
<circle cx="203.5" cy="1085.8" r="4.9"/>
<circle cx="203.5" cy="1085.0" r="4.9"/>
<circle cx="203.5" cy="1084.3" r="4.9"/>
<circle cx="203.5" cy="1083.3" r="4.9"/>
<circle cx="203.5" cy="1082.3" r="4.9"/>
<circle cx="203.5" cy="1081.3" r="4.9"/>
<circle cx="203.5" cy="1079.7" r="4.9"/>
<circle cx="203.5" cy="1079.1" r="4.9"/>
<circle cx="203.5" cy="1077.7" r="4.9"/>
<circle cx="203.5" cy="1076.8" r="4.9"/>
<circle cx="203.5" cy="1075.3" r="4.9"/>
<circle cx="203.5" cy="1074.4" r="4.9"/>
<circle cx="203.5" cy="1072.6" r="4.9"/>
<circle cx="203.5" cy="1071.5" r="4.9"/>
<circle cx="203.5" cy="1068.9" r="4.9"/>
<circle cx="203.5" cy="1067.6" r="4.9"/>
<circle cx="203.5" cy="1066.5" r="4.9"/>
<circle cx="203.5" cy="1064.3" r="4.9"/>
<circle cx="203.5" cy="1061.8" r="4.9"/>
<circle cx="203.5" cy="1061.5" r="4.9"/>
<circle cx="203.5" cy="1058.3" r="4.9"/>
<circle cx="203.5" cy="1057.1" r="4.9"/>
<circle cx="212.4" cy="1088.2" r="4.9"/>
<circle cx="212.4" cy="1087.9" r="4.9"/>
<circle cx="212.4" cy="1087.7" r="4.9"/>
<circle cx="212.4" cy="1087.2" r="4.9"/>
<circle cx="212.4" cy="1086.6" r="4.9"/>
<circle cx="212.4" cy="1085.7" r="4.9"/>
<circle cx="212.4" cy="1085.5" r="4.9"/>
<circle cx="212.4" cy="1084.3" r="4.9"/>
<circle cx="212.4" cy="1083.5" r="4.9"/>
<circle cx="212.4" cy="1082.6" r="4.9"/>
<circle cx="212.4" cy="1081.8" r="4.9"/>
<circle cx="212.4" cy="1080.8" r="4.9"/>
<circle cx="212.4" cy="1080.0" r="4.9"/>
<circle cx="212.4" cy="1078.7" r="4.9"/>
<circle cx="212.4" cy="1077.6" r="4.9"/>
<circle cx="212.4" cy="1075.3" r="4.9"/>
<circle cx="212.4" cy="1074.6" r="4.9"/>
<circle cx="212.4" cy="1073.3" r="4.9"/>
<circle cx="212.4" cy="1071.9" r="4.9"/>
<circle cx="212.4" cy="1069.1" r="4.9"/>
<circle cx="212.4" cy="1067.4" r="4.9"/>
<circle cx="212.4" cy="1066.0" r="4.9"/>
<circle cx="212.4" cy="1065.0" r="4.9"/>
<circle cx="212.4" cy="1063.2" r="4.9"/>
<circle cx="212.4" cy="1061.3" r="4.9"/>
<circle cx="212.4" cy="1059.1" r="4.9"/>
<circle cx="221.4" cy="1088.2" r="4.9"/>
<circle cx="221.4" cy="1087.9" r="4.9"/>
<circle cx="221.4" cy="1087.5" r="4.9"/>
<circle cx="221.4" cy="1086.5" r="4.9"/>
<circle cx="221.4" cy="1085.7" r="4.9"/>
<circle cx="221.4" cy="1085.2" r="4.9"/>
<circle cx="221.4" cy="1084.5" r="4.9"/>
<circle cx="221.4" cy="1082.6" r="4.9"/>
<circle cx="221.4" cy="1082.2" r="4.9"/>
<circle cx="221.4" cy="1080.9" r="4.9"/>
<circle cx="221.4" cy="1080.0" r="4.9"/>
<circle cx="221.4" cy="1078.0" r="4.9"/>
<circle cx="221.4" cy="1076.3" r="4.9"/>
<circle cx="221.4" cy="1074.6" r="4.9"/>
<circle cx="221.4" cy="1073.4" r="4.9"/>
<circle cx="221.4" cy="1071.0" r="4.9"/>
<circle cx="221.4" cy="1070.0" r="4.9"/>
<circle cx="221.4" cy="1067.5" r="4.9"/>
<circle cx="230.3" cy="1088.2" r="4.9"/>
<circle cx="230.3" cy="1087.8" r="4.9"/>
<circle cx="230.3" cy="1087.5" r="4.9"/>
<circle cx="230.3" cy="1086.8" r="4.9"/>
<circle cx="230.3" cy="1085.7" r="4.9"/>
<circle cx="230.3" cy="1084.7" r="4.9"/>
<circle cx="230.3" cy="1083.1" r="4.9"/>
<circle cx="230.3" cy="1081.8" r="4.9"/>
<circle cx="230.3" cy="1079.9" r="4.9"/>
<circle cx="230.3" cy="1078.4" r="4.9"/>
<circle cx="230.3" cy="1076.5" r="4.9"/>
<circle cx="230.3" cy="1074.2" r="4.9"/>
<circle cx="239.2" cy="1088.0" r="4.9"/>
<circle cx="239.2" cy="1086.9" r="4.9"/>
<circle cx="239.2" cy="1083.2" r="4.9"/>
<circle cx="239.2" cy="1082.7" r="4.9"/>
<circle cx="248.2" cy="1087.6" r="4.9"/>
<circle cx="248.2" cy="1085.6" r="4.9"/>
<circle cx="248.2" cy="1084.5" r="4.9"/>
<circle cx="257.1" cy="1086.8" r="4.9"/>
<circle cx="257.1" cy="1082.6" r="4.9"/>
<circle cx="266.1" cy="1087.5" r="4.9"/>
<circle cx="266.1" cy="1084.1" r="4.9"/>
<circle cx="275.0" cy="1084.5" r="4.9"/>
<circle cx="283.9" cy="1088.0" r="4.9"/>
</g>
<g fill="#ff0008" fill-opacity="0.57" stroke="#300" stroke-opacity="0.5" stroke-width="1.4">
<circle cx="212.4" cy="720.7" r="4.9"/>
<circle cx="275.0" cy="736.5" r="4.9"/>
<circle cx="275.0" cy="749.3" r="4.9"/>
<circle cx="203.5" cy="765.5" r="4.9"/>
<circle cx="516.3" cy="755.2" r="4.9"/>
<circle cx="257.1" cy="801.1" r="4.9"/>
<circle cx="203.5" cy="812.5" r="4.9"/>
<circle cx="230.3" cy="823.9" r="4.9"/>
<circle cx="194.6" cy="830.3" r="4.9"/>
<circle cx="337.6" cy="847.7" r="4.9"/>
<circle cx="212.4" cy="857.0" r="4.9"/>
<circle cx="194.6" cy="860.5" r="4.9"/>
<circle cx="230.3" cy="865.8" r="4.9"/>
<circle cx="346.5" cy="865.5" r="4.9"/>
<circle cx="203.5" cy="869.3" r="4.9"/>
</g>
<g fill="#00f" fill-opacity="0.57" stroke="#003" stroke-opacity="0.5" stroke-width="1.4">
<circle cx="391.2" cy="652.0" r="4.9"/>
<circle cx="346.5" cy="796.4" r="4.9"/>
<circle cx="418.0" cy="809.2" r="4.9"/>
<circle cx="257.1" cy="837.7" r="4.9"/>
<circle cx="275.0" cy="840.0" r="4.9"/>
<circle cx="346.5" cy="854.4" r="4.9"/>
<circle cx="507.4" cy="859.1" r="4.9"/>
</g>
<line x1="132.00" y1="870.50" x2="1079.30" y2="870.50" stroke="#a2274f" stroke-width="2.8" stroke-dasharray="10.4 10.85"/>
</g>
<rect x="132.3" y="645.0" width="947.00" height="443.20" fill="none" stroke="#222222" stroke-width="1.3"/>
<line x1="132.20" y1="1088.20" x2="132.20" y2="1096.00" stroke="#222222" stroke-width="2.5" />
<text x="132.00" y="1117.20" font-size="22.6" fill="#444" color="#444" text-anchor="middle" font-weight="normal" >0.0</text>
<line x1="226.93" y1="1088.20" x2="226.93" y2="1096.00" stroke="#222222" stroke-width="2.5" />
<text x="226.73" y="1117.20" font-size="22.6" fill="#444" color="#444" text-anchor="middle" font-weight="normal" >0.1</text>
<line x1="321.66" y1="1088.20" x2="321.66" y2="1096.00" stroke="#222222" stroke-width="2.5" />
<text x="321.46" y="1117.20" font-size="22.6" fill="#444" color="#444" text-anchor="middle" font-weight="normal" >0.2</text>
<line x1="416.39" y1="1088.20" x2="416.39" y2="1096.00" stroke="#222222" stroke-width="2.5" />
<text x="416.19" y="1117.20" font-size="22.6" fill="#444" color="#444" text-anchor="middle" font-weight="normal" >0.3</text>
<line x1="511.12" y1="1088.20" x2="511.12" y2="1096.00" stroke="#222222" stroke-width="2.5" />
<text x="510.92" y="1117.20" font-size="22.6" fill="#444" color="#444" text-anchor="middle" font-weight="normal" >0.4</text>
<line x1="605.85" y1="1088.20" x2="605.85" y2="1096.00" stroke="#222222" stroke-width="2.5" />
<text x="605.65" y="1117.20" font-size="22.6" fill="#444" color="#444" text-anchor="middle" font-weight="normal" >0.5</text>
<line x1="700.58" y1="1088.20" x2="700.58" y2="1096.00" stroke="#222222" stroke-width="2.5" />
<text x="700.38" y="1117.20" font-size="22.6" fill="#444" color="#444" text-anchor="middle" font-weight="normal" >0.6</text>
<line x1="795.31" y1="1088.20" x2="795.31" y2="1096.00" stroke="#222222" stroke-width="2.5" />
<text x="795.11" y="1117.20" font-size="22.6" fill="#444" color="#444" text-anchor="middle" font-weight="normal" >0.7</text>
<line x1="890.04" y1="1088.20" x2="890.04" y2="1096.00" stroke="#222222" stroke-width="2.5" />
<text x="889.84" y="1117.20" font-size="22.6" fill="#444" color="#444" text-anchor="middle" font-weight="normal" >0.8</text>
<line x1="984.77" y1="1088.20" x2="984.77" y2="1096.00" stroke="#222222" stroke-width="2.5" />
<text x="984.57" y="1117.20" font-size="22.6" fill="#444" color="#444" text-anchor="middle" font-weight="normal" >0.9</text>
<line x1="1079.50" y1="1088.20" x2="1079.50" y2="1096.00" stroke="#222222" stroke-width="2.5" />
<text x="1079.30" y="1117.20" font-size="22.6" fill="#444" color="#444" text-anchor="middle" font-weight="normal" >1.0</text>
<line x1="124.50" y1="707.50" x2="132.30" y2="707.50" stroke="#222222" stroke-width="2.5" />
<text x="119.60" y="715.50" font-size="22.7" fill="#444" color="#444" text-anchor="end" font-weight="normal" >0.006</text>
<line x1="124.50" y1="834.60" x2="132.30" y2="834.60" stroke="#222222" stroke-width="2.5" />
<text x="119.60" y="842.60" font-size="22.7" fill="#444" color="#444" text-anchor="end" font-weight="normal" >0.004</text>
<line x1="124.50" y1="961.60" x2="132.30" y2="961.60" stroke="#222222" stroke-width="2.5" />
<text x="119.60" y="969.60" font-size="22.7" fill="#444" color="#444" text-anchor="end" font-weight="normal" >0.002</text>
<line x1="124.50" y1="1088.30" x2="132.30" y2="1088.30" stroke="#222222" stroke-width="2.5" />
<text x="119.60" y="1096.30" font-size="22.7" fill="#444" color="#444" text-anchor="end" font-weight="normal" >0.000</text>
<text x="606.00" y="1149.10" font-size="27" fill="#000" color="#000" text-anchor="middle" font-weight="normal" >Prevalence</text>
<text x="50.60" y="866.50" font-size="27" fill="#000" color="#000" text-anchor="middle" font-weight="normal" transform="rotate(-90 50.60 866.50)" >Impact (absolute)</text>
<text x="-2.30" y="629.90" font-size="37" fill="#000" color="#000" text-anchor="start" font-weight="bold" >b</text>
</g>
<g id="panel-c">
<rect x="1282.0" y="375.0" width="878.50" height="732.30" fill="#fff"/>
<line x1="1500.40" y1="375.00" x2="1500.40" y2="1107.30" stroke="#ebebeb" stroke-width="1.1" />
<line x1="1767.60" y1="375.00" x2="1767.60" y2="1107.30" stroke="#ebebeb" stroke-width="1.1" />
<line x1="2034.80" y1="375.00" x2="2034.80" y2="1107.30" stroke="#ebebeb" stroke-width="1.1" />
<line x1="1282.00" y1="463.20" x2="2160.50" y2="463.20" stroke="#ebebeb" stroke-width="1.1" />
<line x1="1282.00" y1="709.20" x2="2160.50" y2="709.20" stroke="#ebebeb" stroke-width="1.1" />
<line x1="1282.00" y1="955.00" x2="2160.50" y2="955.00" stroke="#ebebeb" stroke-width="1.1" />
<line x1="1366.90" y1="375.00" x2="1366.90" y2="1107.30" stroke="#ebebeb" stroke-width="1.9" />
<line x1="1633.90" y1="375.00" x2="1633.90" y2="1107.30" stroke="#ebebeb" stroke-width="1.9" />
<line x1="1901.30" y1="375.00" x2="1901.30" y2="1107.30" stroke="#ebebeb" stroke-width="1.9" />
<line x1="1282.00" y1="586.20" x2="2160.50" y2="586.20" stroke="#ebebeb" stroke-width="1.9" />
<line x1="1282.00" y1="832.10" x2="2160.50" y2="832.10" stroke="#ebebeb" stroke-width="1.9" />
<line x1="1282.00" y1="1078.00" x2="2160.50" y2="1078.00" stroke="#ebebeb" stroke-width="1.9" />
<line x1="1391.50" y1="407.60" x2="1377.87" y2="525.93" stroke="#9ac51c" stroke-width="3.5" stroke-dasharray="7.2 7.2 21.6 7.2"/>
<line x1="1321.50" y1="448.90" x2="1377.87" y2="525.93" stroke="#9ac51c" stroke-width="3.5" stroke-dasharray="7.2 7.2 21.6 7.2"/>
<line x1="1420.60" y1="721.30" x2="1377.87" y2="525.93" stroke="#9ac51c" stroke-width="3.5" stroke-dasharray="7.2 7.2 21.6 7.2"/>
<line x1="1433.90" y1="497.80" x2="1443.33" y2="925.39" stroke="#1fd61f" stroke-width="3.5" stroke-dasharray="7.2 7.2 21.6 7.2"/>
<line x1="1475.80" y1="855.00" x2="1443.33" y2="925.39" stroke="#1fd61f" stroke-width="3.5" stroke-dasharray="7.2 7.2 21.6 7.2"/>
<line x1="1399.90" y1="979.00" x2="1443.33" y2="925.39" stroke="#1fd61f" stroke-width="3.5" stroke-dasharray="7.2 7.2 21.6 7.2"/>
<line x1="1381.20" y1="1030.30" x2="1443.33" y2="925.39" stroke="#1fd61f" stroke-width="3.5" stroke-dasharray="7.2 7.2 21.6 7.2"/>
<line x1="1424.60" y1="1029.20" x2="1443.33" y2="925.39" stroke="#1fd61f" stroke-width="3.5" stroke-dasharray="7.2 7.2 21.6 7.2"/>
<line x1="1440.40" y1="1043.90" x2="1443.33" y2="925.39" stroke="#1fd61f" stroke-width="3.5" stroke-dasharray="7.2 7.2 21.6 7.2"/>
<line x1="1547.50" y1="1042.50" x2="1443.33" y2="925.39" stroke="#1fd61f" stroke-width="3.5" stroke-dasharray="7.2 7.2 21.6 7.2"/>
<line x1="1544.70" y1="841.00" x2="1706.99" y2="963.01" stroke="#1a9a9a" stroke-width="3.5" stroke-dasharray="7.2 7.2 21.6 7.2"/>
<line x1="1626.70" y1="850.00" x2="1706.99" y2="963.01" stroke="#1a9a9a" stroke-width="3.5" stroke-dasharray="7.2 7.2 21.6 7.2"/>
<line x1="1623.50" y1="965.80" x2="1706.99" y2="963.01" stroke="#1a9a9a" stroke-width="3.5" stroke-dasharray="7.2 7.2 21.6 7.2"/>
<line x1="1766.50" y1="974.50" x2="1706.99" y2="963.01" stroke="#1a9a9a" stroke-width="3.5" stroke-dasharray="7.2 7.2 21.6 7.2"/>
<line x1="1770.90" y1="967.60" x2="1706.99" y2="963.01" stroke="#1a9a9a" stroke-width="3.5" stroke-dasharray="7.2 7.2 21.6 7.2"/>
<line x1="1809.20" y1="1067.00" x2="1706.99" y2="963.01" stroke="#1a9a9a" stroke-width="3.5" stroke-dasharray="7.2 7.2 21.6 7.2"/>
<line x1="1807.40" y1="1075.20" x2="1706.99" y2="963.01" stroke="#1a9a9a" stroke-width="3.5" stroke-dasharray="7.2 7.2 21.6 7.2"/>
<circle cx="1391.5" cy="407.6" r="6.0" fill="#ee5a3a" stroke="#000" stroke-width="1.6"/>
<circle cx="1321.5" cy="448.9" r="7.2" fill="#f58a70" stroke="#000" stroke-width="1.6"/>
<circle cx="1420.6" cy="721.3" r="8.3" fill="#f47c5f" stroke="#000" stroke-width="1.6"/>
<circle cx="1433.9" cy="497.8" r="11.5" fill="#f9917a" stroke="#000" stroke-width="1.6"/>
<circle cx="1475.8" cy="855.0" r="14.7" fill="#fb6540" stroke="#000" stroke-width="1.6"/>
<circle cx="1399.9" cy="979.0" r="12.5" fill="#0000ee" stroke="#000" stroke-width="1.6"/>
<circle cx="1381.2" cy="1030.3" r="8.6" fill="#a070f5" stroke="#000" stroke-width="1.6"/>
<circle cx="1424.6" cy="1029.2" r="11.5" fill="#8f5cf5" stroke="#000" stroke-width="1.6"/>
<circle cx="1440.4" cy="1043.9" r="13.6" fill="#9060f5" stroke="#000" stroke-width="1.6"/>
<circle cx="1547.5" cy="1042.5" r="9.3" fill="#a77cf8" stroke="#000" stroke-width="1.6"/>
<circle cx="1544.7" cy="841.0" r="5.4" fill="#f9a284" stroke="#000" stroke-width="1.6"/>
<circle cx="1626.7" cy="850.0" r="3.6" fill="#f9b8a0" stroke="#000" stroke-width="1.6"/>
<circle cx="1623.5" cy="965.8" r="11.1" fill="#fb9173" stroke="#000" stroke-width="1.6"/>
<circle cx="1766.5" cy="974.5" r="6.0" fill="#222" stroke="#000" stroke-width="1.6"/>
<circle cx="1770.9" cy="967.6" r="11.5" fill="#a87bf8" stroke="#000" stroke-width="1.6"/>
<circle cx="1809.2" cy="1067.0" r="9.7" fill="#f96040" stroke="#000" stroke-width="1.6"/>
<circle cx="1807.4" cy="1075.2" r="9.3" fill="#f96040" stroke="#000" stroke-width="1.6"/>
<circle cx="1588.0" cy="746.0" r="5.0" fill="#f58a70" stroke="#000" stroke-width="1.6"/>
<circle cx="1982.7" cy="639.0" r="7.5" fill="#f7977a" stroke="#000" stroke-width="1.6"/>
<circle cx="2114.2" cy="637.5" r="6.0" fill="#f7977a" stroke="#000" stroke-width="1.6"/>
<circle cx="2120.7" cy="655.1" r="15.4" fill="#a87df8" stroke="#000" stroke-width="1.6"/>
<circle cx="1954.1" cy="832.1" r="3.2" fill="#f9b39a" stroke="#000" stroke-width="1.6"/>
<rect x="1282.0" y="375.0" width="878.50" height="732.30" fill="none" stroke="#222222" stroke-width="1.3"/>
<line x1="1366.90" y1="1107.30" x2="1366.90" y2="1113.80" stroke="#222222" stroke-width="2.3" />
<text x="1366.90" y="1135.50" font-size="21" fill="#444" color="#444" text-anchor="middle" font-weight="normal" >−0.2</text>
<line x1="1633.90" y1="1107.30" x2="1633.90" y2="1113.80" stroke="#222222" stroke-width="2.3" />
<text x="1633.90" y="1135.50" font-size="21" fill="#444" color="#444" text-anchor="middle" font-weight="normal" >0.0</text>
<line x1="1901.30" y1="1107.30" x2="1901.30" y2="1113.80" stroke="#222222" stroke-width="2.3" />
<text x="1901.30" y="1135.50" font-size="21" fill="#444" color="#444" text-anchor="middle" font-weight="normal" >0.2</text>
<line x1="1275.50" y1="586.20" x2="1282.00" y2="586.20" stroke="#222222" stroke-width="2.3" />
<text x="1270.50" y="593.70" font-size="21" fill="#444" color="#444" text-anchor="end" font-weight="normal" >0.2</text>
<line x1="1275.50" y1="832.10" x2="1282.00" y2="832.10" stroke="#222222" stroke-width="2.3" />
<text x="1270.50" y="839.60" font-size="21" fill="#444" color="#444" text-anchor="end" font-weight="normal" >0.0</text>
<line x1="1275.50" y1="1078.00" x2="1282.00" y2="1078.00" stroke="#222222" stroke-width="2.3" />
<text x="1270.50" y="1085.50" font-size="21" fill="#444" color="#444" text-anchor="end" font-weight="normal" >−0.2</text>
<text x="1721.00" y="1164.30" font-size="25" fill="#000" color="#000" text-anchor="middle" font-weight="normal" >PCo1 (16.8%)</text>
<text x="1218.00" y="741.50" font-size="25" fill="#000" color="#000" text-anchor="middle" font-weight="normal" transform="rotate(-90 1218.00 741.50)" >PCo2 (14.4%)</text>
<text x="1157.20" y="370.10" font-size="38" fill="#000" color="#000" text-anchor="start" font-weight="bold" >c</text>
</g>
<g id="legend">
<text x="1282.70" y="83.00" font-size="29.0" fill="#000" color="#000" text-anchor="start" font-weight="normal" >Prevalence</text>
<circle cx="1333.4" cy="104.7" r="7.9" fill="#000"/>
<text x="1365.60" y="111.90" font-size="20.3" fill="#000" color="#000" text-anchor="start" font-weight="normal" >0.1</text>
<circle cx="1333.4" cy="144.2" r="12.0" fill="#000"/>
<text x="1365.60" y="151.40" font-size="20.3" fill="#000" color="#000" text-anchor="start" font-weight="normal" >0.2</text>
<circle cx="1333.4" cy="183.2" r="14.4" fill="#000"/>
<text x="1365.60" y="190.40" font-size="20.3" fill="#000" color="#000" text-anchor="start" font-weight="normal" >0.3</text>
<circle cx="1333.4" cy="222.8" r="16.3" fill="#000"/>
<text x="1365.60" y="230.00" font-size="20.3" fill="#000" color="#000" text-anchor="start" font-weight="normal" >0.4</text>
<text x="1467.10" y="83.00" font-size="29.0" fill="#000" color="#000" text-anchor="start" font-weight="normal" >Impact</text>
<defs><linearGradient id="gimp" x1="0" y1="0" x2="0" y2="1"><stop offset="0" stop-color="#2212fa"/><stop offset="0.07" stop-color="#4a2dfb"/><stop offset="0.15" stop-color="#6e50f8"/><stop offset="0.27" stop-color="#9579f6"/><stop offset="0.4" stop-color="#c3b1f9"/><stop offset="0.5" stop-color="#e9e1fd"/><stop offset="0.553" stop-color="#ffffff"/><stop offset="0.62" stop-color="#fde3d8"/><stop offset="0.72" stop-color="#fcbfaa"/><stop offset="0.83" stop-color="#fd987b"/><stop offset="0.92" stop-color="#fe7655"/><stop offset="1" stop-color="#ff5a36"/></linearGradient></defs>
<rect x="1453.2" y="97.0" width="41.2" height="203.6" fill="url(#gimp)"/>
<line x1="1453.20" y1="111.90" x2="1461.40" y2="111.90" stroke="#fff" stroke-width="1.2" stroke-opacity="0.8"/>
<line x1="1486.20" y1="111.90" x2="1494.40" y2="111.90" stroke="#fff" stroke-width="1.2" stroke-opacity="0.8"/>
<text x="1503.60" y="120.20" font-size="21.2" fill="#000" color="#000" text-anchor="start" font-weight="normal" >0.006</text>
<line x1="1453.20" y1="159.80" x2="1461.40" y2="159.80" stroke="#fff" stroke-width="1.2" stroke-opacity="0.8"/>
<line x1="1486.20" y1="159.80" x2="1494.40" y2="159.80" stroke="#fff" stroke-width="1.2" stroke-opacity="0.8"/>
<text x="1503.60" y="168.10" font-size="21.2" fill="#000" color="#000" text-anchor="start" font-weight="normal" >0.003</text>
<line x1="1453.20" y1="207.70" x2="1461.40" y2="207.70" stroke="#fff" stroke-width="1.2" stroke-opacity="0.8"/>
<line x1="1486.20" y1="207.70" x2="1494.40" y2="207.70" stroke="#fff" stroke-width="1.2" stroke-opacity="0.8"/>
<text x="1503.60" y="216.00" font-size="21.2" fill="#000" color="#000" text-anchor="start" font-weight="normal" >0.000</text>
<line x1="1453.20" y1="255.60" x2="1461.40" y2="255.60" stroke="#fff" stroke-width="1.2" stroke-opacity="0.8"/>
<line x1="1486.20" y1="255.60" x2="1494.40" y2="255.60" stroke="#fff" stroke-width="1.2" stroke-opacity="0.8"/>
<text x="1503.60" y="263.90" font-size="21.2" fill="#000" color="#000" text-anchor="start" font-weight="normal" >−0.003</text>
<text x="1647.20" y="81.40" font-size="26.6" fill="#000" color="#000" text-anchor="start" font-weight="normal" >Family</text>
<rect x="1648.6" y="94.60" width="38.1" height="37.95" fill="#999"/>
<rect x="1651.8" y="97.80" width="31.7" height="31.55" fill="#1a9a9a"/>
<text x="1693.20" y="122.00" font-size="24.3" fill="#000" color="#000" text-anchor="start" font-weight="normal" >Lachnospiraceae</text>
<rect x="1648.6" y="132.55" width="38.1" height="37.95" fill="#999"/>
<rect x="1651.8" y="135.75" width="31.7" height="31.55" fill="#99cc00"/>
<text x="1693.20" y="159.95" font-size="24.3" fill="#000" color="#000" text-anchor="start" font-weight="normal" >Oscillospiraceae</text>
<rect x="1648.6" y="170.50" width="38.1" height="37.95" fill="#999"/>
<rect x="1651.8" y="173.70" width="31.7" height="31.55" fill="#08e008"/>
<text x="1693.20" y="197.90" font-size="24.3" fill="#000" color="#000" text-anchor="start" font-weight="normal" >Ruminococcaceae</text>
</g>
</svg>
</body></html>
